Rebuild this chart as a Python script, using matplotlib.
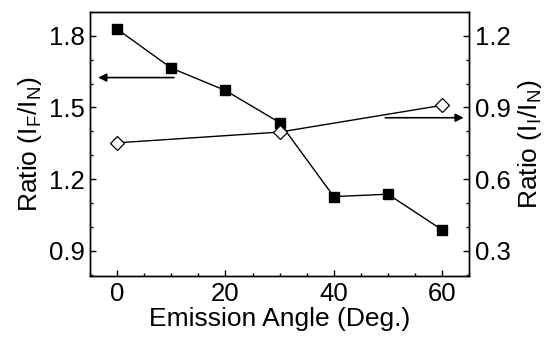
import matplotlib.pyplot as plt
from matplotlib.ticker import MultipleLocator

plt.rcParams['font.family'] = ['Liberation Sans', 'DejaVu Sans']

# emission angle (deg)
angle_f = [0, 10, 20, 30, 40, 50, 60]
ratio_f = [1.828, 1.665, 1.571, 1.437, 1.127, 1.137, 0.988]   # I_F/I_N, left axis

angle_i = [0, 30, 60]
ratio_i = [0.752, 0.797, 0.909]   # I_I/I_N, right axis

fig = plt.figure(figsize=(5.52, 3.39), dpi=100)
ax = fig.add_axes([0.163, 0.186, 0.687, 0.779])
ax2 = ax.twinx()

ax.plot(angle_f, ratio_f, color='black', lw=1.0, marker='s', ms=7.5,
        mfc='black', mec='black')
ax2.plot(angle_i, ratio_i, color='black', lw=1.0, marker='D', ms=7,
         mfc='white', mec='black', mew=0.9)

ax.set_xlim(-5, 65)
ax.set_ylim(0.795, 1.90)
ax2.set_ylim(0.195, 1.30)

ax.xaxis.set_major_locator(MultipleLocator(20))
ax.xaxis.set_minor_locator(MultipleLocator(5))
ax.yaxis.set_major_locator(MultipleLocator(0.3))
ax.yaxis.set_minor_locator(MultipleLocator(0.1))
ax2.yaxis.set_major_locator(MultipleLocator(0.3))
ax2.yaxis.set_minor_locator(MultipleLocator(0.1))

for a in (ax, ax2):
    a.tick_params(which='major', direction='in', length=4, width=1, labelsize=18.5, pad=4)
    a.tick_params(which='minor', direction='in', length=2.5, width=1)
    for s in a.spines.values():
        s.set_linewidth(1.0)
ax.tick_params(axis='y', which='both', right=False)
ax.tick_params(axis='x', which='both', top=False)

ax.set_xlabel('Emission Angle (Deg.)', fontsize=19, labelpad=1)
ax.set_ylabel('Ratio (I$_\\mathregular{F}$/I$_\\mathregular{N}$)', fontsize=19, labelpad=3)
ax2.set_ylabel('Ratio (I$_\\mathregular{I}$/I$_\\mathregular{N}$)', fontsize=19, labelpad=4)

# arrows pointing to the matching axis
ax.annotate('', xy=(-4.0, 1.625), xytext=(11, 1.625),
            arrowprops=dict(arrowstyle='-|>', color='black', lw=1.2, mutation_scale=12))
ax2.annotate('', xy=(64.5, 0.857), xytext=(49, 0.857),
             arrowprops=dict(arrowstyle='-|>', color='black', lw=1.2, mutation_scale=12))

fig.savefig('out.png', dpi=100)
